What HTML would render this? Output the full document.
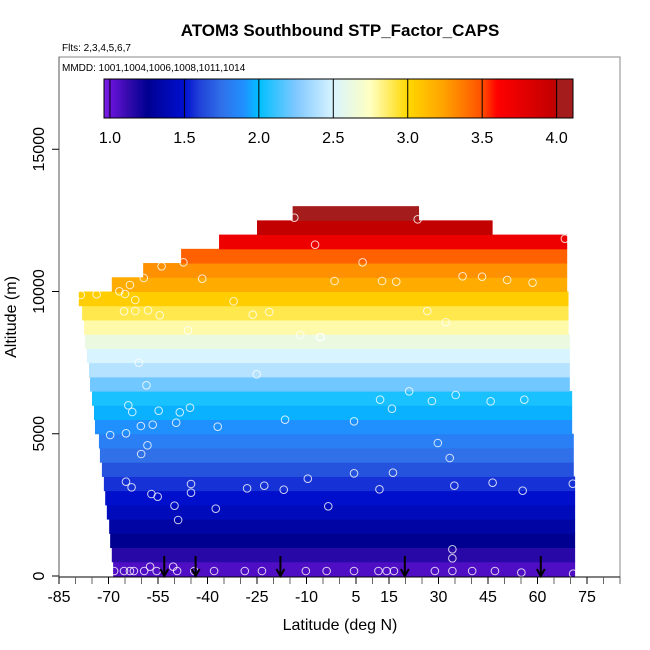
<!DOCTYPE html>
<html><head><meta charset="utf-8"><style>
body{margin:0;background:#fff;}
svg{display:block;font-family:"Liberation Sans",sans-serif;}
</style></head><body>
<svg id="chart" width="650" height="650" xmlns="http://www.w3.org/2000/svg">
<defs><linearGradient id="cbgrad" x1="0" x2="1" y1="0" y2="0"></linearGradient></defs>
<text x="340" y="36" text-anchor="middle" font-weight="bold" font-size="17">ATOM3 Southbound STP_Factor_CAPS</text>
<text x="62" y="51" font-size="10">Flts: 2,3,4,5,6,7</text>
<rect x="59" y="57" width="561" height="520" fill="none" stroke="#888" stroke-width="1"/>
<text x="62" y="71" font-size="10">MMDD: 1001,1004,1006,1008,1011,1014</text>
<g id="heat"></g>
<g id="pts"></g>
<g id="arrows"></g>
<g id="cbar"></g>
<g id="xaxis"></g>
<g id="yaxis"></g>
<text x="340" y="630" text-anchor="middle" font-size="16">Latitude (deg N)</text>
<text transform="translate(16,317) rotate(-90)" text-anchor="middle" font-size="16">Altitude (m)</text>
</svg>
<script>
const altBins=[0,500,1000,1500,2000,2500,3000,3500,4000,4500,5000,5500,6000,6500,7000,7500,8000,8500,9000,9500,10000,10500,11000,11500,12000,12500];
const rowLatStart=[-68.6,-69,-69.5,-69.8,-70.5,-71,-71.4,-72,-72.6,-72.9,-74.1,-74.4,-75,-75.6,-75.9,-76.5,-77.1,-77.4,-78,-79,-69,-59.5,-48,-36.5,-25,-14.2];
const rowLatEnd=[71.4,71.4,71.4,71.4,71.4,71.4,71.4,71,71,71,70.5,70.5,70.5,69.8,69.8,69.8,69.8,69.4,69.4,69.4,69,69,69,69,46.4,24.1];
const rowValue=[1.06,1.15,1.25,1.33,1.42,1.48,1.57,1.66,1.75,1.82,1.9,1.97,2.05,2.22,2.4,2.5,2.62,2.78,2.9,3.05,3.2,3.3,3.45,3.7,3.98,4.1];
const ptLat=[-13.7,-7.4,-47.3,-53.9,-59.3,-41.6,-63.5,-66.7,-65,-78.4,-73.6,-61.9,-32.1,-65.3,-61.9,-58,-54.5,-26.3,-21.3,-45.9,-11.9,-6,-60.8,-25.1,-58.5,-64,-62.8,-54.8,-48.4,-45.3,-16.5,-60.2,-56.6,-49.5,-36.9,-69.5,-64.7,-58.2,-60.1,-64.7,-63,-45,-45,-57,-55.1,-28,-22.8,-16.9,-9.6,-50,-37.5,-48.9,-68.3,-65.3,-63.5,-62.3,-59.2,-57.4,-55.4,-50.4,-49.2,-44,-38,-28.7,-23.5,-10.2,
23.7,68.3,7,-1.5,12.9,17.2,37.3,43.2,50.8,58.5,26.6,32.2,-5.6,21.1,12.3,15.9,28,35.2,45.8,56,4.4,29.8,33.4,4.4,16.2,12.1,34.8,46.4,55.5,70.7,-3.4,34.2,34.2,-3.9,4.4,11.8,14.3,16.5,28.9,34.2,40.2,47.1,55.1,70.8];
const ptAlt=[12594,11646,11026,10886,10475,10450,10228,10007,9912,9877,9900,9701,9655,9304,9314,9338,9163,9185,9279,8635,8471,8390,7498,7090,6703,6000,5765,5810,5754,5916,5494,5272,5318,5389,5248,4956,5016,4593,4288,3315,3117,3234,2928,2882,2787,3083,3174,3033,3420,2471,2366,1968,176,176,176,176,176,328,176,328,176,176,176,176,176,176,
12538,11857,11026,10369,10369,10345,10534,10521,10404,10310,9314,8917,8401,6491,6197,5881,6151,6362,6140,6197,5437,4675,4148,3610,3631,3047,3174,3279,2998,3244,2450,938,622,176,176,176,176,176,176,176,176,176,120,80];
const arrowLat=[-53.1,-43.6,-17.9,19.8,61];
const xTicks=[-85,-70,-55,-40,-25,-10,5,15,30,45,60,75];
const yTicks=[0,5000,10000,15000];
const cbTicks=[1.0,1.5,2.0,2.5,3.0,3.5,4.0];
const cbStops=[[0.96,'#7b22e6'],[1.0,'#6a12dc'],[1.1,'#3e0cb4'],[1.25,'#000090'],[1.5,'#0010d0'],[1.6,'#2040d8'],[1.75,'#3070e8'],[1.9,'#2090ff'],[2.0,'#00bfff'],[2.25,'#80c8ff'],[2.5,'#d8f4ff'],[2.75,'#ffffc0'],[3.0,'#ffd800'],[3.25,'#ffa000'],[3.5,'#ff5000'],[3.6,'#ff0000'],[4.0,'#c00000'],[4.001,'#a51c1c'],[4.11,'#a51c1c']];

const NS='http://www.w3.org/2000/svg';
const X0=59,X1=620,Y0=577,Y1=57;
const xs=v=>X0+(v+85)/170*(X1-X0);
const ys=v=>576-v*0.02845;
const cbMin=0.96,cbMax=4.11,cbX0=104,cbX1=573;
const cbx=v=>cbX0+(v-cbMin)/(cbMax-cbMin)*(cbX1-cbX0);
function mk(tag,attrs,parent){const e=document.createElementNS(NS,tag);for(const k in attrs)e.setAttribute(k,attrs[k]);parent.appendChild(e);return e;}
function hex(c){return [1,3,5].map(i=>parseInt(c.substr(i,2),16));}
function color(v){
  if(v<=cbStops[0][0])return cbStops[0][1];
  for(let i=1;i<cbStops.length;i++){if(v<=cbStops[i][0]){const a=cbStops[i-1],b=cbStops[i];const t=(v-a[0])/(b[0]-a[0]);const ca=hex(a[1]),cb=hex(b[1]);return 'rgb('+ca.map((c,j)=>Math.round(c+(cb[j]-c)*t)).join(',')+')';}}
  return cbStops[cbStops.length-1][1];
}
// heatmap
const heat=document.getElementById('heat');
altBins.forEach((a,i)=>{
  const r=mk('rect',{x:xs(rowLatStart[i]),y:ys(a+500),width:xs(rowLatEnd[i])-xs(rowLatStart[i]),height:ys(a)-ys(a+500)+0.5,fill:color(rowValue[i])},heat);
  
  
});
// points
const pts=document.getElementById('pts');
ptLat.forEach((la,i)=>{
  const c=mk('circle',{cx:xs(la),cy:ys(ptAlt[i]),r:3.8,fill:'none',stroke:'#fff','stroke-opacity':0.8,'stroke-width':1},pts);
  
  
});
// arrows
const arr=document.getElementById('arrows');
arrowLat.forEach(la=>{
  const x=xs(la);
  const g=mk('g',{},arr);
  
  
  mk('line',{x1:x,y1:556,x2:x,y2:575,stroke:'#000','stroke-width':2},g);
  mk('polyline',{points:(x-4)+',569 '+x+',576 '+(x+4)+',569',fill:'none',stroke:'#000','stroke-width':2},g);
});
// colorbar
const grad=document.getElementById('cbgrad');
cbStops.forEach(s=>{mk('stop',{offset:((s[0]-cbMin)/(cbMax-cbMin)*100)+'%','stop-color':s[1]},grad);});
const cb=document.getElementById('cbar');
const cbr=mk('rect',{x:cbX0,y:79,width:cbX1-cbX0,height:39,fill:'url(#cbgrad)',stroke:'#000','stroke-width':1},cb);


cbTicks.forEach(t=>{
  mk('line',{x1:cbx(t),y1:79,x2:cbx(t),y2:118,stroke:'#000','stroke-width':1},cb);
  const tx=mk('text',{x:cbx(t),y:143,'text-anchor':'middle','font-size':16},cb);
  tx.textContent=t.toFixed(1);
  
  
});
// x axis
const xa=document.getElementById('xaxis');
mk('line',{x1:X0,y1:Y0,x2:X1,y2:Y0,stroke:'#000','stroke-width':1},xa);
for(let v=-85;v<=85;v+=5){mk('line',{x1:xs(v),y1:Y0,x2:xs(v),y2:Y0+7,stroke:(xTicks.includes(v)?'#000':'#666'),'stroke-width':1},xa);}
xTicks.forEach(t=>{
  const tx=mk('text',{x:xs(t),y:602,'text-anchor':'middle','font-size':16},xa);
  tx.textContent=t;
  
  
});
// y axis
const ya=document.getElementById('yaxis');
mk('line',{x1:X0,y1:Y1,x2:X0,y2:Y0,stroke:'#555','stroke-width':1},ya);
yTicks.forEach(t=>{
  mk('line',{x1:X0-7,y1:ys(t),x2:X0,y2:ys(t),stroke:'#000','stroke-width':1},ya);
  const tx=mk('text',{transform:'translate(44,'+ys(t)+') rotate(-90)','text-anchor':'middle','font-size':16},ya);
  tx.textContent=t;
  
  
});
</script>
</body></html>
